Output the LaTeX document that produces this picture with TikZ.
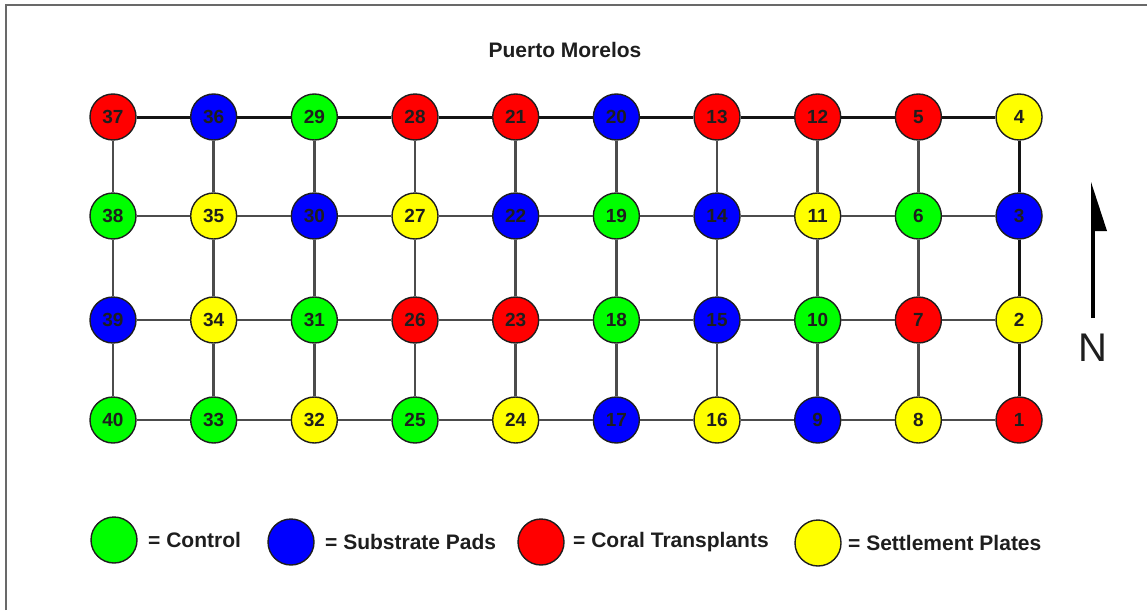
\documentclass[tikz,border=0pt]{standalone}
\usepackage{fontspec}
\setmainfont{Liberation Sans}
\definecolor{ctrl}{RGB}{0,255,0}
\definecolor{pads}{RGB}{0,0,255}
\definecolor{coral}{RGB}{255,0,0}
\definecolor{plates}{RGB}{255,255,0}
\definecolor{ink}{RGB}{30,30,30}
\definecolor{framegray}{RGB}{105,105,105}
\tikzset{
  plot/.style={circle, draw=ink, line width=1.4pt, minimum size=46pt, inner sep=0pt,
               font=\fontsize{19}{19}\selectfont\bfseries, text=ink},
  link/.style={draw=black!70, line width=2.5pt},
  rim/.style={draw=black!92, line width=3pt},
  legtext/.style={anchor=west, inner sep=0pt, font=\fontsize{21}{21}\selectfont\bfseries, text=ink},
}
\begin{document}
\begin{tikzpicture}[x=1pt, y=-1pt]
\useasboundingbox (0,0) rectangle (1147,610);
% frame (left and top edges)
\draw[framegray, line width=2pt] (6,610) -- (6,5) -- (1147,5);

% title
\node[font=\fontsize{21}{21}\selectfont\bfseries, text=ink] (title) at (565,50) {Puerto Morelos};

% plots, four rows of ten
\foreach \lab/\col [count=\i] in {37/coral,36/pads,29/ctrl,28/coral,21/coral,20/pads,13/coral,12/coral,5/coral,4/plates}
  \node[plot, fill=\col] (a\i) at ({113+100.67*(\i-1)},117) {\lab};
\foreach \lab/\col [count=\i] in {38/ctrl,35/plates,30/pads,27/plates,22/pads,19/ctrl,14/pads,11/plates,6/ctrl,3/pads}
  \node[plot, fill=\col] (b\i) at ({113+100.67*(\i-1)},216) {\lab};
\foreach \lab/\col [count=\i] in {39/pads,34/plates,31/ctrl,26/coral,23/coral,18/ctrl,15/pads,10/ctrl,7/coral,2/plates}
  \node[plot, fill=\col] (c\i) at ({113+100.67*(\i-1)},320) {\lab};
\foreach \lab/\col [count=\i] in {40/ctrl,33/ctrl,32/plates,25/ctrl,24/plates,17/pads,16/plates,9/pads,8/plates,1/coral}
  \node[plot, fill=\col] (d\i) at ({113+100.67*(\i-1)},420) {\lab};

% horizontal links
\foreach \i in {1,...,9} {
  \pgfmathtruncatemacro\j{\i+1}
  \draw[rim] (a\i) -- (a\j);
  \draw[link] (b\i) -- (b\j);
  \draw[link] (c\i) -- (c\j);
  \draw[link] (d\i) -- (d\j);
}
% vertical links
\foreach \i in {1,...,9} {
  \draw[link] (a\i) -- (b\i);
  \draw[link] (b\i) -- (c\i);
  \draw[link] (c\i) -- (d\i);
}
\draw[rim] (a10) -- (b10);
\draw[rim] (b10) -- (c10);
\draw[rim] (c10) -- (d10);

% north arrow
\coordinate (ntail) at (1093,318);
\coordinate (nhead) at (1093,200);
\draw[black, line width=4pt] (ntail) -- (nhead);
\fill[black] (1091,182) -- (1107,231) -- (1091,231) -- cycle;
\node[font=\fontsize{40}{40}\selectfont, text=ink] (north) at (1093,348) {N};

% legend
\node[plot, fill=ctrl]   (lg1) at (114,540) {};
\node[legtext] (lt1) at (148,540) {= Control};
\node[plot, fill=pads]   (lg2) at (291,542) {};
\node[legtext] (lt2) at (325,542) {= Substrate Pads};
\node[plot, fill=coral]  (lg3) at (541,542) {};
\node[legtext] (lt3) at (573,542) {= Coral Transplants};
\node[plot, fill=plates] (lg4) at (818,543) {};
\node[legtext] (lt4) at (848,543) {= Settlement Plates};
\end{tikzpicture}
\end{document}
